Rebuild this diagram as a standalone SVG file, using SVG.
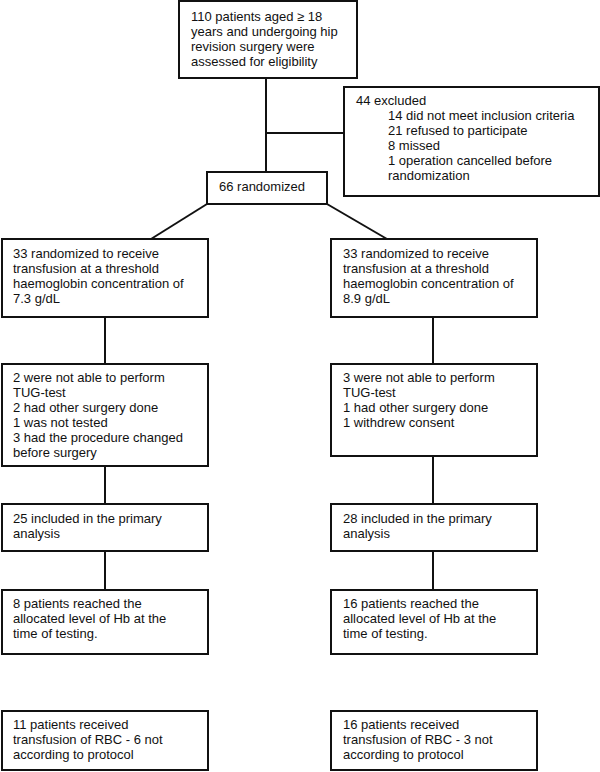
<svg xmlns="http://www.w3.org/2000/svg" width="600" height="772" viewBox="0 0 600 772">
<style>
rect.box{fill:#fff;stroke:#111;stroke-width:2}
.conn line{stroke:#111;stroke-width:2}
text{font-family:"Liberation Sans",Arial,sans-serif;font-size:13px;fill:#111}
</style>
<rect width="600" height="772" fill="#fff"/>
<g class="conn">
<line x1="266" y1="78" x2="266" y2="172"/>
<line x1="266" y1="133" x2="344" y2="133"/>
<line x1="207" y1="204" x2="151" y2="239"/>
<line x1="327" y1="204" x2="387" y2="239"/>
<line x1="105" y1="317" x2="105" y2="364"/>
<line x1="433" y1="317" x2="433" y2="364"/>
<line x1="105" y1="466" x2="105" y2="504"/>
<line x1="433" y1="456" x2="433" y2="504"/>
<line x1="105" y1="551" x2="105" y2="590"/>
<line x1="433" y1="551" x2="433" y2="590"/>
</g>
<g id="assessed">
<rect class="box" x="179" y="1" width="178" height="77"/>
<text x="191" y="21">110 patients aged ≥ 18</text>
<text x="191" y="36">years and undergoing hip</text>
<text x="191" y="51">revision surgery were</text>
<text x="191" y="66">assessed for eligibility</text>
</g>
<g id="excluded">
<rect class="box" x="344" y="87" width="255" height="109"/>
<text x="356" y="105">44 excluded</text>
<text x="388" y="120">14 did not meet inclusion criteria</text>
<text x="388" y="135">21 refused to participate</text>
<text x="388" y="150">8 missed</text>
<text x="388" y="165">1 operation cancelled before</text>
<text x="388" y="180">randomization</text>
</g>
<g id="randomized">
<rect class="box" x="207" y="172" width="120" height="32"/>
<text x="219" y="191">66 randomized</text>
</g>
<g id="arm-low">
<rect class="box" x="2" y="239" width="206" height="78"/>
<text x="13" y="258">33 randomized to receive</text>
<text x="13" y="273">transfusion at a threshold</text>
<text x="13" y="288">haemoglobin concentration of</text>
<text x="13" y="303">7.3 g/dL</text>
</g>
<g id="arm-high">
<rect class="box" x="331" y="239" width="206" height="78"/>
<text x="343" y="258">33 randomized to receive</text>
<text x="343" y="273">transfusion at a threshold</text>
<text x="343" y="288">haemoglobin concentration of</text>
<text x="343" y="303">8.9 g/dL</text>
</g>
<g id="lost-low">
<rect class="box" x="2" y="364" width="206" height="102"/>
<text x="13" y="382">2 were not able to perform</text>
<text x="13" y="397">TUG-test</text>
<text x="13" y="412">2 had other surgery done</text>
<text x="13" y="427">1 was not tested</text>
<text x="13" y="442">3 had the procedure changed</text>
<text x="13" y="457">before surgery</text>
</g>
<g id="lost-high">
<rect class="box" x="331" y="364" width="206" height="92"/>
<text x="343" y="382">3 were not able to perform</text>
<text x="343" y="397">TUG-test</text>
<text x="343" y="412">1 had other surgery done</text>
<text x="343" y="427">1 withdrew consent</text>
</g>
<g id="analysis-low">
<rect class="box" x="2" y="504" width="206" height="47"/>
<text x="13" y="523">25 included in the primary</text>
<text x="13" y="538">analysis</text>
</g>
<g id="analysis-high">
<rect class="box" x="331" y="504" width="206" height="47"/>
<text x="343" y="523">28 included in the primary</text>
<text x="343" y="538">analysis</text>
</g>
<g id="hb-low">
<rect class="box" x="2" y="590" width="206" height="64"/>
<text x="13" y="608">8 patients reached the</text>
<text x="13" y="623">allocated level of Hb at the</text>
<text x="13" y="638">time of testing.</text>
</g>
<g id="hb-high">
<rect class="box" x="331" y="590" width="206" height="64"/>
<text x="343" y="608">16 patients reached the</text>
<text x="343" y="623">allocated level of Hb at the</text>
<text x="343" y="638">time of testing.</text>
</g>
<g id="rbc-low">
<rect class="box" x="2" y="711" width="206" height="59"/>
<text x="13" y="729">11 patients received</text>
<text x="13" y="744">transfusion of RBC - 6 not</text>
<text x="13" y="759">according to protocol</text>
</g>
<g id="rbc-high">
<rect class="box" x="331" y="711" width="206" height="59"/>
<text x="343" y="729">16 patients received</text>
<text x="343" y="744">transfusion of RBC - 3 not</text>
<text x="343" y="759">according to protocol</text>
</g>
</svg>
